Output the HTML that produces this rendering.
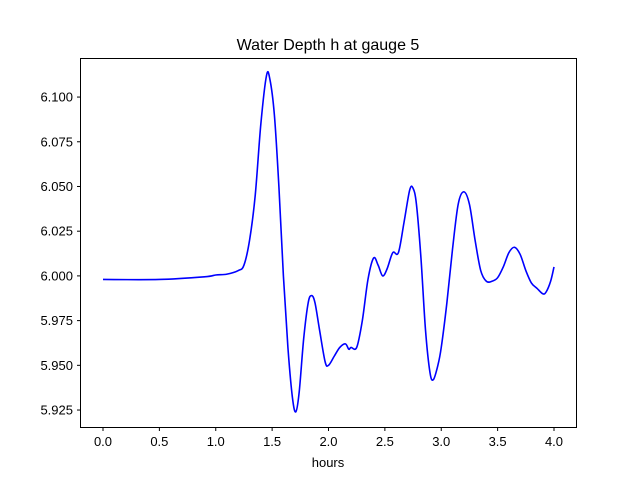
<!DOCTYPE html>
<html><head><meta charset="utf-8"><style>body{margin:0;background:#fff}svg{display:block;font-family:"Liberation Sans","DejaVu Sans",sans-serif}</style></head>
<body>
<svg id="chart" width="640" height="480">
<rect width="640" height="480" fill="#fff"/>
<text x="328" y="50" font-size="16" text-anchor="middle">Water Depth h at gauge 5</text>
<text x="328" y="467" font-size="13" text-anchor="middle">hours</text>
<g id="ticks"></g>
<path id="line" fill="none" stroke="#0000ff" stroke-width="1.6"/>
<rect x="80.5" y="58.5" width="496" height="369" fill="none" stroke="#000" stroke-width="1"/>
</svg>
<script>
const times=[0,0.5,0.9,1.0,1.1,1.2,1.25,1.3,1.35,1.4,1.45,1.48,1.52,1.56,1.6,1.64,1.68,1.71,1.74,1.78,1.82,1.85,1.88,1.92,1.97,2.0,2.05,2.1,2.15,2.18,2.2,2.25,2.3,2.35,2.4,2.44,2.48,2.52,2.57,2.62,2.67,2.72,2.75,2.78,2.82,2.86,2.9,2.93,2.97,3.0,3.05,3.1,3.15,3.2,3.25,3.3,3.35,3.4,3.45,3.5,3.55,3.6,3.65,3.7,3.75,3.8,3.85,3.9,3.93,3.97,4.0];
const depths=[5.998,5.998,5.9995,6.0005,6.001,6.003,6.006,6.02,6.045,6.085,6.112,6.110,6.09,6.05,6.0,5.96,5.932,5.924,5.935,5.965,5.985,5.989,5.985,5.970,5.952,5.950,5.955,5.960,5.962,5.959,5.960,5.960,5.975,5.998,6.010,6.006,6.000,6.004,6.013,6.013,6.030,6.048,6.049,6.040,6.010,5.970,5.946,5.942,5.950,5.960,5.985,6.015,6.040,6.047,6.040,6.020,6.003,5.997,5.997,5.999,6.005,6.013,6.016,6.012,6.003,5.996,5.993,5.990,5.991,5.997,6.005];
const xTicks=[0,0.5,1.0,1.5,2.0,2.5,3.0,3.5,4.0];
const yTicks=[5.925,5.950,5.975,6.000,6.025,6.050,6.075,6.100];
const xs=t=>103+t*112.75;
const ys=v=>275.9-(v-6.0)/0.025*44.71;
const NS="http://www.w3.org/2000/svg";
const g=document.getElementById('ticks');
function mk(tag,attrs){const e=document.createElementNS(NS,tag);for(const k in attrs)e.setAttribute(k,attrs[k]);return e;}
xTicks.forEach(t=>{const x=xs(t);
 const l=mk('line',{x1:x,x2:x,y1:427.5,y2:431,stroke:'#000'});
 
 
 g.appendChild(l);
 const tx=mk('text',{x:x,y:446,'font-size':13,'text-anchor':'middle'});tx.textContent=t.toFixed(1);
 
 
 g.appendChild(tx);});
yTicks.forEach(v=>{const y=ys(v);
 const l=mk('line',{x1:77,x2:80.5,y1:y,y2:y,stroke:'#000'});
 
 
 g.appendChild(l);
 const tx=mk('text',{x:73,y:y+4.5,'font-size':13,'text-anchor':'end'});tx.textContent=v.toFixed(3);
 
 
 g.appendChild(tx);});
const pts=times.map((t,i)=>[xs(t),ys(depths[i])]);
let d='M'+pts[0][0]+','+pts[0][1];
for(let i=1;i<pts.length;i++){const p0=pts[Math.max(0,i-2)],p1=pts[i-1],p2=pts[i],p3=pts[Math.min(pts.length-1,i+1)];
 const c1x=p1[0]+(p2[0]-p0[0])/6,c1y=p1[1]+(p2[1]-p0[1])/6,c2x=p2[0]-(p3[0]-p1[0])/6,c2y=p2[1]-(p3[1]-p1[1])/6;
 d+=` C${c1x},${c1y} ${c2x},${c2y} ${p2[0]},${p2[1]}`;}
document.getElementById('line').setAttribute('d',d);
</script>
</body></html>
